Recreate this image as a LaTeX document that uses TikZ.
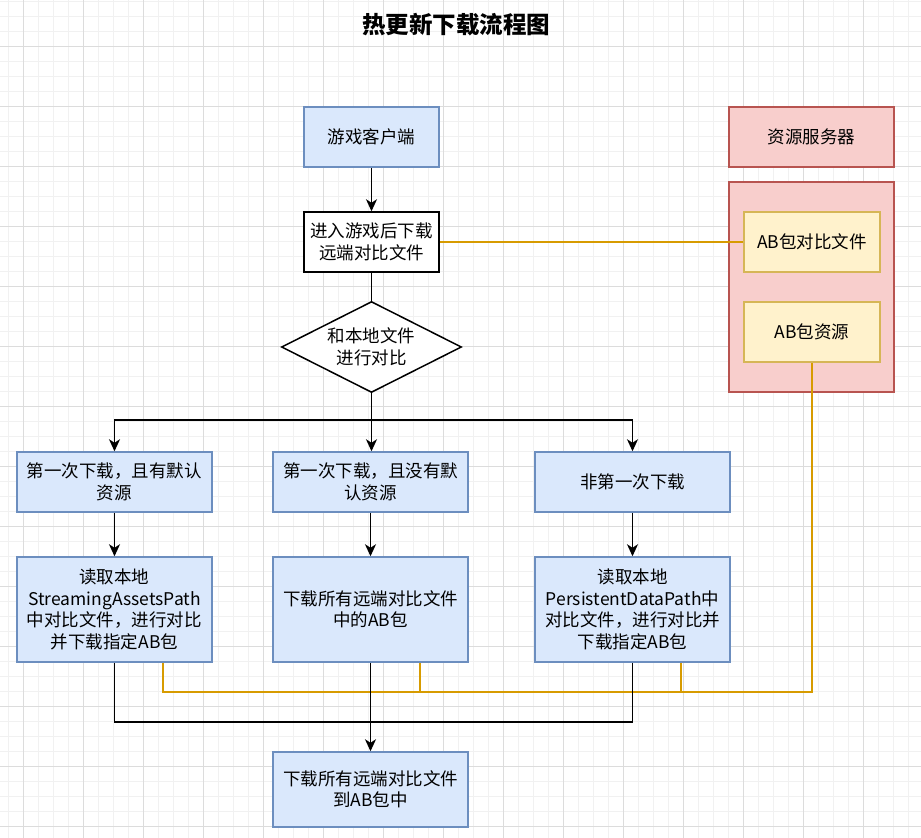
\documentclass[tikz,border=0pt]{standalone}
\usepackage{fontspec}
\setmainfont{Noto Sans CJK SC}
\usetikzlibrary{arrows.meta}
\definecolor{bluefill}{HTML}{DAE8FC}
\definecolor{bluedraw}{HTML}{6C8EBF}
\definecolor{redfill}{HTML}{F8CECC}
\definecolor{reddraw}{HTML}{B85450}
\definecolor{yelfill}{HTML}{FFF2CC}
\definecolor{yeldraw}{HTML}{D6B656}
\definecolor{orangeline}{HTML}{D79B00}
\definecolor{gridminor}{HTML}{F1F1F1}
\definecolor{gridmajor}{HTML}{DCDCDC}
\begin{document}
\begin{tikzpicture}[x=1pt,y=-1pt,
  txt/.style={font=\fontsize{17.5}{21.5}\selectfont, align=center, inner sep=0pt},
  bluebox/.style={txt, draw=bluedraw, fill=bluefill, line width=1.5pt},
  whitebox/.style={txt, draw=black, fill=white, line width=1.5pt},
  redbox/.style={txt, draw=reddraw, fill=redfill, line width=1.5pt},
  yelbox/.style={txt, draw=yeldraw, fill=yelfill, line width=1.5pt},
  blk/.style={draw=black, line width=1.5pt},
  arr/.style={blk, -{Stealth[length=12pt,width=11pt,inset=3.5pt]}},
  oline/.style={draw=orangeline, line width=1.5pt}
]
\useasboundingbox (0,0) rectangle (921,838);
\fill[white] (0,0) rectangle (921,838);
% grid
\foreach \i in {0,...,61} {
  \draw[gridminor, line width=0.8pt] (8.33+15*\i,0) -- (8.33+15*\i,838);
  \draw[gridminor, line width=0.8pt] (0,1.67+15*\i) -- (921,1.67+15*\i);
}
\foreach \i in {0,...,15} {
  \draw[gridmajor, line width=0.8pt] (23.33+60*\i,0) -- (23.33+60*\i,838);
  \draw[gridmajor, line width=0.8pt] (0,46.67+60*\i) -- (921,46.67+60*\i);
}

% title
\node[font=\fontsize{23.5}{28}\selectfont\bfseries, inner sep=0pt] (title) at (456,25) {热更新下载流程图};

% server side
\node[redbox, minimum width=165pt, minimum height=60pt] (server) at (811.5,137) {资源服务器};
\node[redbox, minimum width=165pt, minimum height=210pt] (store) at (811.5,287) {};
\node[yelbox, minimum width=136pt, minimum height=60pt] (abcmp) at (812,242) {AB包对比文件};
\node[yelbox, minimum width=136pt, minimum height=60pt] (abres) at (812,332) {AB包资源};

% client column
\node[bluebox, minimum width=135pt, minimum height=60pt] (client) at (371.5,137) {游戏客户端};
\node[whitebox, minimum width=135pt, minimum height=60pt] (enter) at (371.5,242) {进入游戏后下载\\远端对比文件};
\node[txt, minimum width=179pt, minimum height=90pt] (dia) at (371.5,347) {和本地文件\\进行对比};
\draw[black, fill=white, line width=1.5pt] (dia.north) -- (dia.east) -- (dia.south) -- (dia.west) -- cycle;
\node[txt] at (dia.center) {和本地文件\\进行对比};

\node[bluebox, minimum width=195pt, minimum height=60pt] (a) at (114.5,482) {第一次下载，且有默认\\资源};
\node[bluebox, minimum width=195pt, minimum height=60pt] (b) at (370.5,482) {第一次下载，且没有默\\认资源};
\node[bluebox, minimum width=195pt, minimum height=60pt] (c) at (632.5,482) {非第一次下载};

\node[bluebox, minimum width=195pt, minimum height=105pt] (a2) at (114.5,609.5) {读取本地\\StreamingAssetsPath\\中对比文件，进行对比\\并下载指定AB包};
\node[bluebox, minimum width=195pt, minimum height=105pt] (b2) at (370.5,609.5) {下载所有远端对比文件\\中的AB包};
\node[bluebox, minimum width=195pt, minimum height=105pt] (c2) at (632.5,609.5) {读取本地\\PersistentDataPath中\\对比文件，进行对比并\\下载指定AB包};

\node[bluebox, minimum width=195pt, minimum height=75pt] (final) at (370.5,789.5) {下载所有远端对比文件\\到AB包中};

% orange connectors
\draw[oline] (enter.east) -- (abcmp.west);
\coordinate (oa) at (163,692);
\coordinate (ob) at (420,692);
\coordinate (oc) at (681,692);
\draw[oline] (abres.south) |- (oa) -- (oa |- a2.south);
\draw[oline] (ob) -- (ob |- b2.south);
\draw[oline] (oc) -- (oc |- c2.south);

% black connectors
\draw[arr] (client) -- (enter);
\draw[blk] (enter) -- (dia.north);
\coordinate (split) at (371.5,420);
\draw[blk] (dia.south) -- (split);
\draw[arr] (split) -| (a.north);
\draw[arr] (split) -- (split |- b.north);
\draw[arr] (split) -| (c.north);
\draw[arr] (a) -- (a2);
\draw[arr] (b) -- (b2);
\draw[arr] (c) -- (c2);
\coordinate (join) at (370.5,722);
\draw[blk] (a2.south) |- (join);
\draw[blk] (c2.south) |- (join);
\draw[arr] (b2.south) -- (final.north);
\end{tikzpicture}
\end{document}
